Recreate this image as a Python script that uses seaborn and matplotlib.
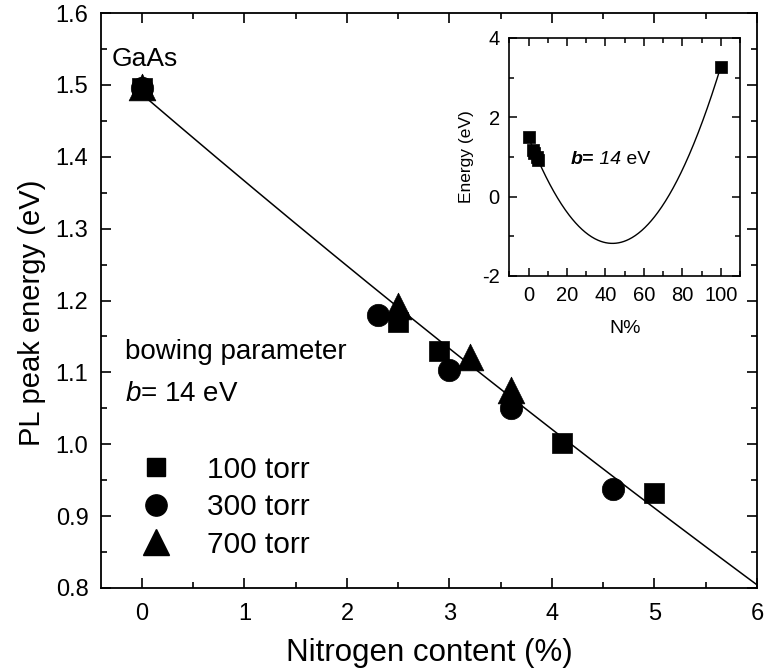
import numpy as np
import pandas as pd
import matplotlib
matplotlib.use("Agg")
import matplotlib.pyplot as plt
import seaborn as sns
from matplotlib.lines import Line2D
from matplotlib.ticker import MultipleLocator, FormatStrFormatter

# ---------------- data ----------------
n100 = [0.0, 2.5, 2.9, 4.1, 5.0]
e100 = [1.495, 1.170, 1.130, 1.002, 0.932]
n300 = [0.0, 2.3, 3.0, 3.6, 4.6]
e300 = [1.495, 1.180, 1.103, 1.050, 0.938]
n700 = [0.0, 2.5, 3.2, 3.6]
e700 = [1.497, 1.193, 1.122, 1.075]

inset_n = [0.0, 2.3, 3.0, 4.1, 5.0, 100.0]
inset_e = [1.50, 1.18, 1.10, 1.00, 0.93, 3.27]

# bowing model parameters (from the chart)
E_GaAs = 1.487
E_GaN = 3.27
b_bow = 14.0

legend_labels = ["100 torr", "300 torr", "700 torr"]

# ---------------- style ----------------
sns.set_style("ticks")
plt.rcParams["font.family"] = ["Liberation Sans", "DejaVu Sans"]
plt.rcParams["mathtext.fontset"] = "custom"
plt.rcParams["mathtext.rm"] = "Liberation Sans"
plt.rcParams["mathtext.it"] = "Liberation Sans:italic"
plt.rcParams["axes.unicode_minus"] = False
for k in ["text.color", "axes.labelcolor", "xtick.color", "ytick.color", "axes.edgecolor"]:
    plt.rcParams[k] = "black"

df = pd.concat([
    pd.DataFrame({"N": n100, "E": e100, "p": legend_labels[0]}),
    pd.DataFrame({"N": n300, "E": e300, "p": legend_labels[1]}),
    pd.DataFrame({"N": n700, "E": e700, "p": legend_labels[2]}),
], ignore_index=True)

def model(xfrac):
    return (1 - xfrac) * E_GaAs + xfrac * E_GaN - b_bow * xfrac * (1 - xfrac)

fig = plt.figure(figsize=(7.69, 6.71), dpi=100)
ax = fig.add_axes([0.1313, 0.1237, 0.8531, 0.8569])

# fitted line
xl = np.linspace(0, 6.1, 200)
line_df = pd.DataFrame({"N": xl, "E": model(xl / 100)})
sns.lineplot(data=line_df, x="N", y="E", ax=ax, color="black", lw=1.1, zorder=2)

markers = {"100 torr": ("s", 200), "300 torr": ("o", 260), "700 torr": ("^", 370)}
for lab in legend_labels:
    m, s = markers[lab]
    sns.scatterplot(data=df[df.p == lab], x="N", y="E", ax=ax, marker=m, s=s,
                    color="black", edgecolor="black", linewidth=0.5, legend=False, zorder=3)

ax.set_xlim(-0.4, 6)
ax.set_ylim(0.8, 1.6)
ax.xaxis.set_major_locator(MultipleLocator(1))
ax.xaxis.set_minor_locator(MultipleLocator(0.5))
ax.yaxis.set_major_locator(MultipleLocator(0.1))
ax.yaxis.set_minor_locator(MultipleLocator(0.05))
ax.yaxis.set_major_formatter(FormatStrFormatter("%.1f"))
ax.tick_params(which="both", direction="in", top=True, right=True, width=1.2)
ax.tick_params(which="major", length=7, labelsize=17)
ax.tick_params(axis="x", which="major", pad=11)
ax.tick_params(axis="y", which="major", pad=9)
ax.tick_params(which="minor", length=4)
for sp in ax.spines.values():
    sp.set_linewidth(1.3)
ax.set_xlabel("Nitrogen content (%)", fontsize=22.5, labelpad=9)
ax.set_ylabel("PL peak energy (eV)", fontsize=21, labelpad=10)
ax.yaxis.set_label_coords(-0.084, 0.478)

ax.text(0.017, 0.92, "GaAs", transform=ax.transAxes, fontsize=19, ha="left", va="center")
ax.text(0.036, 0.41, "bowing parameter", transform=ax.transAxes, fontsize=20, ha="left", va="center")
ax.text(0.036, 0.337, r"$\mathit{b}$= $\mathit{14}$ eV", transform=ax.transAxes, fontsize=20,
        ha="left", va="center")

handles = [Line2D([], [], ls="", marker=markers[l][0], color="black",
                  markersize=np.sqrt(markers[l][1]) * 0.95) for l in legend_labels]
ax.legend(handles, legend_labels, loc="lower left", bbox_to_anchor=(0.009, 0.004),
          frameon=False, fontsize=21.5, handletextpad=0.95, labelspacing=0.32,
          borderaxespad=0.5, handlelength=1.5)

# ---------------- inset ----------------
axi = fig.add_axes([0.6625, 0.5887, 0.2997, 0.3547])
xi = np.linspace(0, 100, 300)
inset_line = pd.DataFrame({"N": xi, "E": model(xi / 100)})
sns.lineplot(data=inset_line, x="N", y="E", ax=axi, color="black", lw=1.0, zorder=2)
inset_df = pd.DataFrame({"N": inset_n, "E": inset_e})
sns.scatterplot(data=inset_df, x="N", y="E", ax=axi, marker="s", s=75, color="black",
                edgecolor="black", linewidth=0.5, legend=False, zorder=3)
axi.set_xlim(-10, 110)
axi.set_ylim(-2, 4)
axi.xaxis.set_major_locator(MultipleLocator(20))
axi.xaxis.set_minor_locator(MultipleLocator(10))
axi.yaxis.set_major_locator(MultipleLocator(2))
axi.yaxis.set_minor_locator(MultipleLocator(1))
axi.tick_params(which="both", direction="in", top=True, right=True, width=1.1)
axi.tick_params(which="major", length=6, labelsize=14.5, pad=7)
axi.tick_params(which="minor", length=3.5)
for sp in axi.spines.values():
    sp.set_linewidth(1.2)
axi.set_xlabel("N%", fontsize=14, labelpad=11)
axi.set_ylabel("Energy (eV)", fontsize=12.5, labelpad=6)

t1 = axi.text(0.265, 0.49, "b=", transform=axi.transAxes, fontsize=14,
              fontweight="bold", fontstyle="italic", ha="left", va="center")
t2 = axi.annotate(" 14", xy=(1, 0), xycoords=t1, fontsize=14, fontstyle="italic",
                  ha="left", va="bottom")
axi.annotate(" eV", xy=(1, 0), xycoords=t2, fontsize=14, ha="left", va="bottom")

fig.savefig("out.png", dpi=100)
